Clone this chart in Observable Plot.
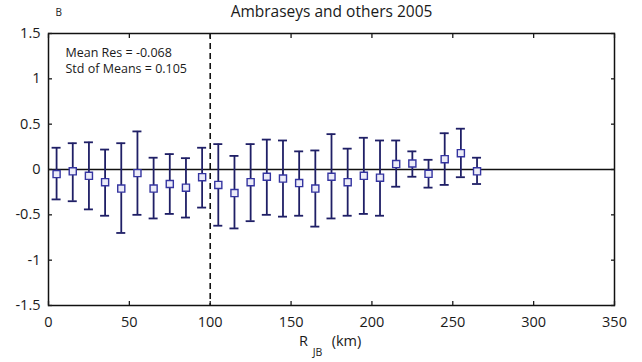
<!DOCTYPE html>
<html><head><meta charset="utf-8">
<script src="https://cdn.jsdelivr.net/npm/d3@7"></script>
<script src="https://cdn.jsdelivr.net/npm/@observablehq/plot@0.6"></script>
<style>body{margin:0;background:#fff;}</style>
</head><body><div id="chart"></div>
<script>
const rjb = [5,15,25,35,45,55,65,75,85,95,105,115,125,135,145,155,165,175,185,195,205,215,225,235,245,255,265];
const meanRes = [-0.05,-0.02,-0.07,-0.14,-0.21,-0.04,-0.21,-0.16,-0.20,-0.085,-0.17,-0.26,-0.14,-0.08,-0.10,-0.15,-0.21,-0.08,-0.14,-0.07,-0.09,0.06,0.066,-0.048,0.114,0.18,-0.02];
const upper = [0.24,0.29,0.30,0.22,0.29,0.42,0.13,0.17,0.125,0.24,0.28,0.15,0.28,0.33,0.32,0.20,0.21,0.39,0.23,0.35,0.32,0.32,0.20,0.107,0.40,0.45,0.13];
const lower = [-0.33,-0.35,-0.44,-0.51,-0.70,-0.50,-0.54,-0.49,-0.53,-0.42,-0.62,-0.65,-0.57,-0.50,-0.52,-0.51,-0.63,-0.54,-0.51,-0.49,-0.51,-0.19,-0.08,-0.20,-0.17,-0.085,-0.16];
const xTicks = [0,50,100,150,200,250,300,350];
const yTicks = [-1.5,-1,-0.5,0,0.5,1,1.5];
const refDistance = [100];
const titleText = "Ambraseys and others 2005";
const panelLetter = "B";
const statsLabels = ["Mean Res = -0.068", "Std of Means = 0.105"];

const rows = rjb.map((r, i) => ({r, m: meanRes[i], hi: upper[i], lo: lower[i]}));
const navy = "#1f1f66";
const blue = "#3434a0";

const chart = Plot.plot({
  width: 642, height: 362,
  marginLeft: 48, marginRight: 28, marginTop: 33, marginBottom: 57,
  style: {fontFamily: "'Open Sans', sans-serif", fontSize: "14.5px", background: "white", color: "#1a1a1a"},
  x: {domain: [0, 350]},
  y: {domain: [-1.5, 1.5]},
  marks: [
    Plot.ruleY([0], {stroke: "#111", strokeWidth: 1.6}),
    Plot.ruleX(refDistance, {stroke: "#111", strokeWidth: 1.6, strokeDasharray: "6,4"}),
    Plot.ruleX(rows, {x: "r", y1: "lo", y2: "hi", stroke: navy, strokeWidth: 1.8}),
    Plot.ruleY(rows, {y: "hi", x1: "r", x2: "r", insetLeft: -4.5, insetRight: -4.5, stroke: navy, strokeWidth: 1.8}),
    Plot.ruleY(rows, {y: "lo", x1: "r", x2: "r", insetLeft: -4.5, insetRight: -4.5, stroke: navy, strokeWidth: 1.8}),
    Plot.dot(rows, {x: "r", y: "m", symbol: "square", r: 4, stroke: blue, fill: "#ececf8", strokeWidth: 1.4}),
    Plot.frame({stroke: "#111", strokeWidth: 1.5}),
    Plot.axisX(xTicks, {anchor: "bottom", tickSize: -4, tickPadding: 15, label: null, tickFormat: d => String(d), strokeWidth: 1.3}),
    Plot.axisX(xTicks, {anchor: "top", tickSize: -4, fill: "none", label: null, strokeWidth: 1.3}),
    Plot.axisY(yTicks, {anchor: "left", tickSize: -4, tickPadding: 12, label: null, tickFormat: d => String(d), strokeWidth: 1.3}),
    Plot.axisY(yTicks, {anchor: "right", tickSize: -4, fill: "none", label: null, strokeWidth: 1.3}),
    Plot.text([titleText], {frameAnchor: "top", dy: -21, fontSize: 15.5, lineAnchor: "middle"}),
    Plot.text([panelLetter], {frameAnchor: "top-left", dx: 7, dy: -21, fontSize: 10, lineAnchor: "middle"}),
    Plot.text([statsLabels[0]], {frameAnchor: "top-left", dx: 17, dy: 19.7, fontSize: 12.5, textAnchor: "start", lineAnchor: "middle"}),
    Plot.text([statsLabels[1]], {frameAnchor: "top-left", dx: 17, dy: 35.3, fontSize: 12.5, textAnchor: "start", lineAnchor: "middle"}),
    Plot.text(["R"], {frameAnchor: "bottom", dx: -28, dy: 36, fontSize: 14.5, lineAnchor: "middle"}),
    Plot.text(["JB"], {frameAnchor: "bottom", dx: -14, dy: 47, fontSize: 10.5, lineAnchor: "middle"}),
    Plot.text(["(km)"], {frameAnchor: "bottom", dx: 15, dy: 36, fontSize: 14.5, lineAnchor: "middle"})
  ]
});
document.getElementById("chart").appendChild(chart);
</script>
</body></html>
